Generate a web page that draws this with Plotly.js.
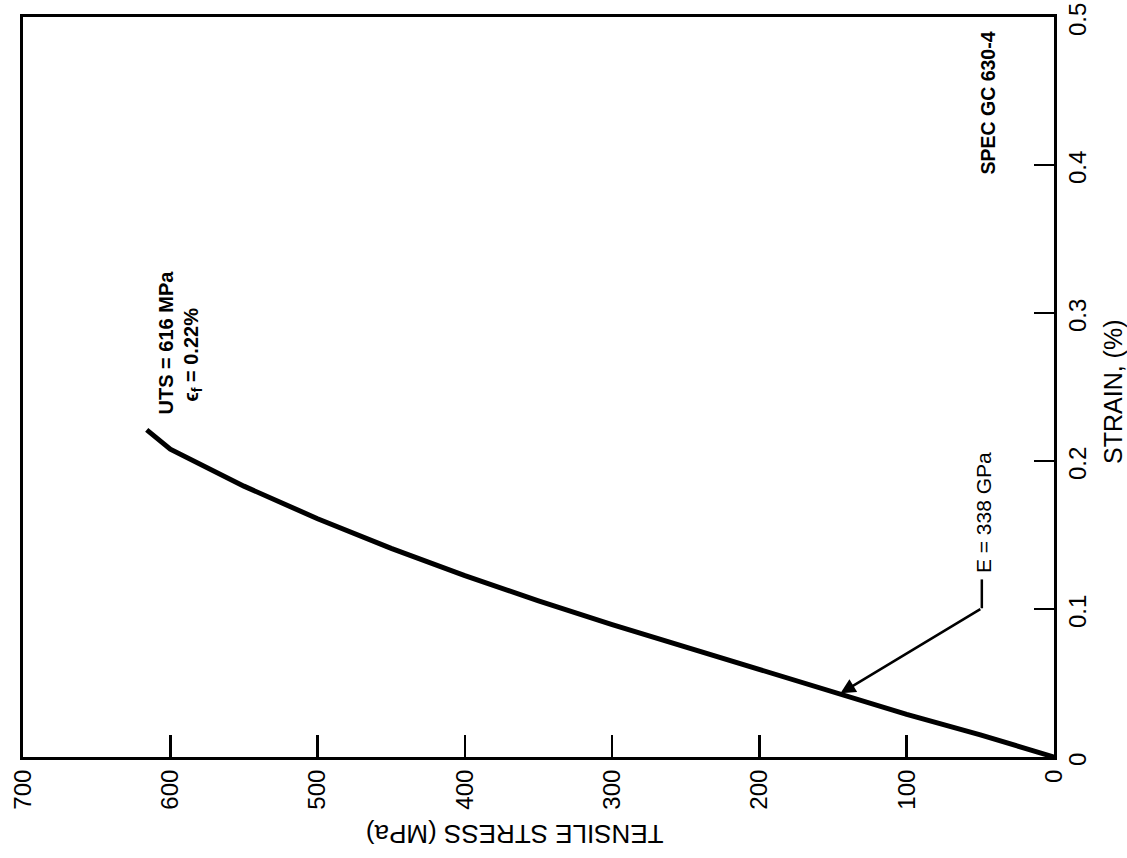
<!DOCTYPE html>
<html>
<head>
<meta charset="utf-8">
<script src="https://cdn.plot.ly/plotly-3.0.1.min.js"></script>
<style>html,body{margin:0;padding:0;background:#fff;}#chart{width:1127px;height:858px;}</style>
</head>
<body>
<div id="chart"></div>
<script>
// Tensile stress (MPa) and strain (%)
const stressMPa = [0, 50, 100, 150, 200, 250, 300, 350, 400, 450, 500, 550, 600, 616];
const strainPct = [0, 0.0150, 0.0288, 0.0440, 0.0590, 0.0740, 0.0895, 0.1055, 0.1225, 0.1410, 0.1610, 0.1830, 0.2080, 0.2210];
const stressTicks = [0, 100, 200, 300, 400, 500, 600, 700];
const strainTicks = [0, 0.1, 0.2, 0.3, 0.4, 0.5];
const strainTickText = ["0", "0.1", "0.2", "0.3", "0.4", "0.5"];

const FONT = "Liberation Sans, Arial, Helvetica, sans-serif";

const trace = {
  x: stressMPa, y: strainPct, type: "scatter", mode: "lines",
  line: {color: "#000", width: 5}, hoverinfo: "skip", showlegend: false
};

const layout = {
  width: 1127, height: 858,
  margin: {l: 23, r: 73, t: 17, b: 101},
  paper_bgcolor: "#fff", plot_bgcolor: "#fff",
  font: {family: FONT, color: "#000", size: 24},
  showlegend: false,
  xaxis: {
    range: [700, 0], tickvals: stressTicks, ticktext: stressTicks.map(String),
    ticks: "inside", ticklen: 22, tickwidth: 2.5, tickcolor: "#000",
    tickangle: -90, tickfont: {size: 24, family: FONT}, ticklabeloverflow: "allow",
    showline: true, linewidth: 3, linecolor: "#000", mirror: true,
    showgrid: false, zeroline: false, fixedrange: true
  },
  yaxis: {
    side: "right", range: [0, 0.5], tickvals: strainTicks, ticktext: strainTickText,
    ticks: "inside", ticklen: 20, tickwidth: 2.5, tickcolor: "#000",
    tickangle: -90, tickfont: {size: 24, family: FONT}, ticklabeloverflow: "allow",
    ticklabelshift: 6,
    showline: true, linewidth: 3, linecolor: "#000", mirror: true,
    showgrid: false, zeroline: false, fixedrange: true
  },
  shapes: [
    {type: "line", xref: "x", yref: "y", x0: 49, x1: 49, y0: 0.1005, y1: 0.1200,
     line: {color: "#000", width: 2.5}}
  ],
  annotations: [
    {xref: "paper", yref: "paper", x: 0.477, y: -0.105, text: "TENSILE STRESS (MPa)",
     textangle: 180, showarrow: false, xanchor: "center", yanchor: "middle",
     font: {size: 26, family: FONT}},
    {xref: "paper", yref: "paper", x: 1.057, y: 0.493, text: "STRAIN, (%)",
     textangle: -90, showarrow: false, xanchor: "center", yanchor: "middle",
     font: {size: 25, family: FONT}},
    {xref: "x", yref: "y", x: 603, y: 0.280, text: "<b>UTS = 616 MPa</b>",
     textangle: -90, showarrow: false, xanchor: "center", yanchor: "middle",
     font: {size: 20, family: FONT}},
    {xref: "x", yref: "y", x: 585, y: 0.272, text: "<b>\u03f5<sub>f</sub> = 0.22%</b>",
     textangle: -90, showarrow: false, xanchor: "center", yanchor: "middle",
     font: {size: 20, family: FONT}},
    {xref: "x", yref: "y", x: 48, y: 0.165, text: "E = 338 GPa",
     textangle: -90, showarrow: false, xanchor: "center", yanchor: "middle",
     font: {size: 21, family: FONT}},
    {xref: "x", yref: "y", x: 45, y: 0.442, text: "<b>SPEC GC 630-4</b>",
     textangle: -90, showarrow: false, xanchor: "center", yanchor: "middle",
     font: {size: 19.5, family: FONT}},
    {xref: "x", yref: "y", x: 145, y: 0.043, axref: "x", ayref: "y", ax: 49, ay: 0.1005,
     text: "", showarrow: true, arrowhead: 2, arrowsize: 1.2, arrowwidth: 2.5,
     arrowcolor: "#000", standoff: 0}
  ]
};

Plotly.newPlot("chart", [trace], layout, {displayModeBar: false, staticPlot: true});
</script>
</body>
</html>
